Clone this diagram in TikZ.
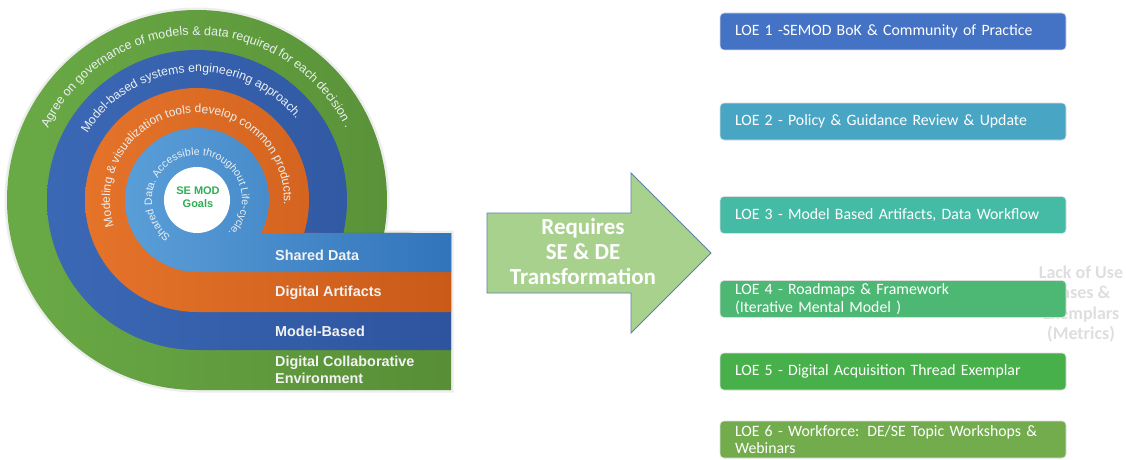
\documentclass[tikz,border=0pt]{standalone}
\usepackage{fontspec}
\usetikzlibrary{decorations.text}
\setmainfont{Liberation Sans}
\newfontfamily\arialfont{Liberation Sans}
\newfontfamily\calibrifont{Carlito}

\definecolor{greenA}{HTML}{6AAA46}
\definecolor{greenB}{HTML}{578E36}
\definecolor{blueA}{HTML}{3B68B5}
\definecolor{blueB}{HTML}{2E549E}
\definecolor{orangeA}{HTML}{E5732A}
\definecolor{orangeB}{HTML}{C95A18}
\definecolor{skyA}{HTML}{5A9ED8}
\definecolor{skyB}{HTML}{3274BA}
\definecolor{arctxt}{HTML}{EAF0F2}
\definecolor{bandtxt}{HTML}{F2F2F2}
\definecolor{goalgreen}{HTML}{2EAE55}
\definecolor{arrowfill}{HTML}{A9D18E}
\definecolor{arrowedge}{HTML}{5B7FA6}
\definecolor{loeedge}{HTML}{DDDDDD}
\definecolor{loeA}{HTML}{4472C4}
\definecolor{loeB}{HTML}{48A6C4}
\definecolor{loeC}{HTML}{45BBA6}
\definecolor{loeD}{HTML}{4DB873}
\definecolor{loeE}{HTML}{47B04B}
\definecolor{loeF}{HTML}{72AC4D}

\tikzset{
  ringfill/.style 2 args={left color=#1, right color=#2},
  halo/.style={draw=black, draw opacity=0.07, line width=5pt},
  bandlabel/.style={anchor=west, inner sep=0pt, align=left, text=bandtxt,
    font=\arialfont\bfseries\fontsize{14.4}{16.5}\selectfont},
  loebox/.style={draw=loeedge, line width=0.6pt, rounded corners=4pt,
    minimum width=346pt, minimum height=37pt, text width=316pt,
    inner xsep=15pt, inner ysep=0pt, align=left, text=white,
    font=\calibrifont\fontsize{15.8}{17.5}\selectfont,
    execute at begin node={\hyphenpenalty=10000\relax}},
  bigarrow/.style={fill=arrowfill, draw=arrowedge, line width=0.8pt, line join=miter},
}

% one ring: upper circle of radius #1 joined with a band running to the right
\newcommand{\ringband}[2]{%
  \path[#2] (451,226) -- (451,{259-#1}) -- (197,{259-#1})
    arc[start angle=-90, end angle={-360-asin(33/#1)}, radius=#1] -- cycle;}

% text set along an arc round the centre, read clockwise
\newcommand{\arcwords}[5]{%
  \path[decorate, decoration={text along path, text align=center,
      text={|\arialfont\fontsize{#4}{#4}\selectfont\color{arctxt}|#5}}]
    (197,259) ++(#2:#1) arc[start angle=#2, end angle=#3, radius=#1];}

\begin{document}
\begin{tikzpicture}[x=1pt, y=1pt]
\useasboundingbox (0,0) rectangle (1126,459);

% soft shadow, then the nested rings
\ringband{190}{halo}
\ringband{190}{ringfill={greenA}{greenB}}
\ringband{150}{ringfill={blueA}{blueB}}
\ringband{112}{ringfill={orangeA}{orangeB}}
\ringband{72}{ringfill={skyA}{skyB}}
\fill[white] (197,259) circle (33);

% texts round the rings
\arcwords{165}{178}{2}{12.5}{Agree on governance of models {\&} data required for each decision .}
\arcwords{128}{184}{4}{12.3}{Model-based systems engineering approach.}
\arcwords{87}{217}{-23}{12}{Modeling {\&} visualization tools develop common products.}
\arcwords{45}{254}{-66}{10.6}{Shared Data. Accessible throughout Life-cycle.}

\node[font=\arialfont\bfseries\fontsize{11}{12.5}\selectfont, text=goalgreen, align=center]
  (goals) at (198,262) {SE MOD\\Goals};

% band labels
\node[bandlabel] (shared) at (275,204) {Shared Data};
\node[bandlabel] (artifacts) at (275,166) {Digital Artifacts};
\node[bandlabel] (model) at (275,128) {Model-Based};
\node[bandlabel] (collab) at (275,89) {Digital Collaborative\\Environment};

% block arrow
\draw[bigarrow] (487,246) -- (631,246) -- (631,286) -- (711,206)
  -- (631,126) -- (631,166) -- (487,166) -- cycle;
\node[font=\calibrifont\bfseries\fontsize{23}{25}\selectfont, text=white, align=center]
  (req) at (583,207) {Requires\\SE \& DE\\Transformation};

% side note partly under LOE 4
\node[font=\calibrifont\bfseries\fontsize{18}{20.5}\selectfont, text=black!13, align=center]
  (gap) at (1081,155) {Lack of Use\\Cases \&\\Exemplars\\(Metrics)};

% lines of effort
\node[loebox, fill=loeA] (loe1) at (893,427.5) {LOE 1 -SEMOD BoK \& Community of Practice};
\node[loebox, fill=loeB] (loe2) at (893,337.5) {LOE 2 - Policy \& Guidance Review \& Update};
\node[loebox, fill=loeC] (loe3) at (893,244) {LOE 3 - Model Based Artifacts, Data Workflow};
\node[loebox, fill=loeD] (loe4) at (893,160) {LOE 4 - Roadmaps \& Framework\\(Iterative Mental Model )};
\node[loebox, fill=loeE] (loe5) at (893,87.5) {LOE 5 - Digital Acquisition Thread Exemplar};
\node[loebox, fill=loeF] (loe6) at (893,19.5) {LOE 6 - Workforce: DE/SE Topic Workshops \&\\Webinars};
\end{tikzpicture}
\end{document}
